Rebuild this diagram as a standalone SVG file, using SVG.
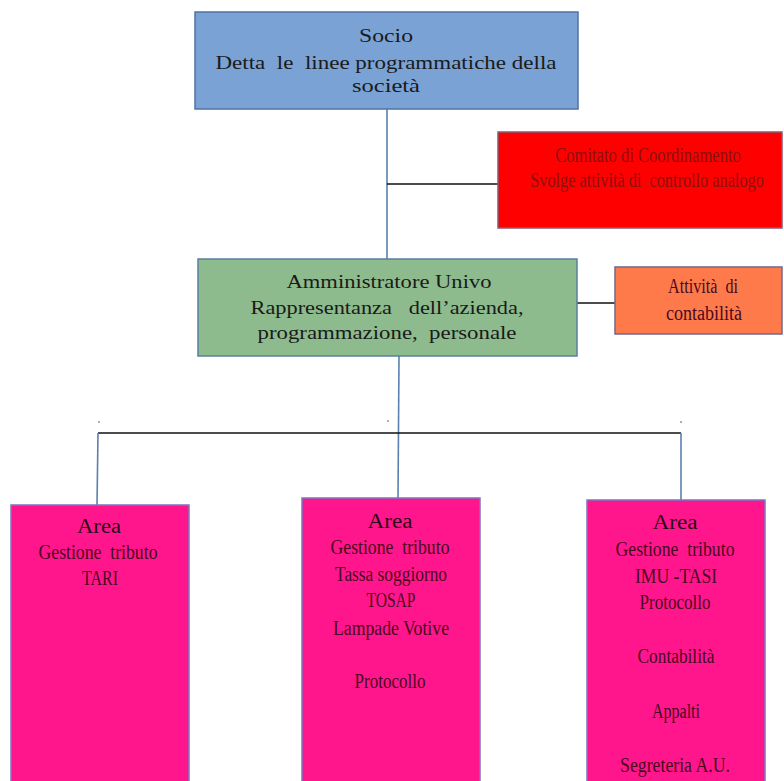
<svg xmlns="http://www.w3.org/2000/svg" width="784" height="781" viewBox="0 0 784 781">
<style>
.t{font-family:"Liberation Serif","Times New Roman",serif;text-anchor:middle}
.main{font-size:19px;fill:#1a1a1a}
.nar{font-size:20px;fill:#4a0a1e}
.area{font-size:20px;fill:#2a0a18}
.red{fill:#8b1010}
.bl{stroke:#5a80b0;stroke-width:1.6;fill:none}
.bk{stroke:#111;stroke-width:1.6;fill:none}
.pink{fill:#ff168c;stroke:#7f74c0;stroke-width:1.5}
</style>
<rect width="784" height="781" fill="#ffffff"/>
<g id="connectors">
<line class="bl" x1="387" y1="109" x2="387" y2="259"/>
<line class="bk" x1="387" y1="184" x2="498" y2="184"/>
<line class="bk" x1="577" y1="303" x2="615" y2="303" stroke="#333"/>
<line class="bl" x1="399" y1="356" x2="398" y2="499"/>
<line class="bk" x1="98" y1="433" x2="681" y2="433" stroke-width="2"/>
<line class="bl" x1="98" y1="433" x2="97" y2="505"/>
<line class="bl" x1="681" y1="433" x2="681" y2="500"/>
<circle cx="99" cy="422" r="0.9" fill="#888"/>
<circle cx="388" cy="421" r="0.9" fill="#888"/>
<circle cx="681" cy="422" r="0.9" fill="#888"/>
</g>
<g id="socio">
<rect x="195" y="12" width="383" height="97" fill="#7aa2d4" stroke="#4f73a3" stroke-width="1.5"/>
<text class="t main" x="386" y="42" textLength="54" lengthAdjust="spacingAndGlyphs">Socio</text>
<text class="t main" x="386" y="69" textLength="341" lengthAdjust="spacingAndGlyphs" xml:space="preserve">Detta  le  linee programmatiche della</text>
<text class="t main" x="386" y="92" textLength="68" lengthAdjust="spacingAndGlyphs">società</text>
</g>
<g id="comitato">
<rect x="498" y="132" width="284" height="96" fill="#ff0000" stroke="#8a5a70" stroke-width="1.5"/>
<text class="t nar red" transform="translate(648,162) scale(0.8,1)" x="0" y="0" textLength="232" lengthAdjust="spacingAndGlyphs">Comitato di Coordinamento</text>
<text class="t nar red" transform="translate(647,187) scale(0.8,1)" x="0" y="0" textLength="292" lengthAdjust="spacingAndGlyphs" xml:space="preserve">Svolge attività di  controllo analogo</text>
</g>
<g id="amministratore">
<rect x="198" y="259" width="379" height="97" fill="#8dbb8d" stroke="#5a7f9e" stroke-width="1.5"/>
<text class="t main" x="389" y="288" textLength="205" lengthAdjust="spacingAndGlyphs">Amministratore Univo</text>
<text class="t main" x="387" y="314" textLength="273" lengthAdjust="spacingAndGlyphs" xml:space="preserve">Rappresentanza   dell’azienda,</text>
<text class="t main" x="387" y="339" textLength="259" lengthAdjust="spacingAndGlyphs" xml:space="preserve">programmazione,  personale</text>
</g>
<g id="contabilita">
<rect x="615" y="267" width="167" height="67" fill="#ff7a4a" stroke="#6f6a8a" stroke-width="1.5"/>
<text class="t nar" x="703" y="293" textLength="70" lengthAdjust="spacingAndGlyphs" xml:space="preserve">Attività  di</text>
<text class="t nar" x="704" y="320" textLength="76" lengthAdjust="spacingAndGlyphs">contabilità</text>
</g>
<g id="area1">
<rect class="pink" x="11" y="505" width="178" height="290"/>
<text class="t area" x="99" y="533" textLength="44" lengthAdjust="spacingAndGlyphs">Area</text>
<text class="t nar" x="98" y="559" textLength="119" lengthAdjust="spacingAndGlyphs" xml:space="preserve">Gestione  tributo</text>
<text class="t nar" x="100" y="585" textLength="36" lengthAdjust="spacingAndGlyphs">TARI</text>
</g>
<g id="area2">
<rect class="pink" x="302" y="498" width="178" height="297"/>
<text class="t area" x="390" y="528" textLength="45" lengthAdjust="spacingAndGlyphs">Area</text>
<text class="t nar" x="390" y="554" textLength="119" lengthAdjust="spacingAndGlyphs" xml:space="preserve">Gestione  tributo</text>
<text class="t nar" x="391" y="581" textLength="112" lengthAdjust="spacingAndGlyphs">Tassa soggiorno</text>
<text class="t nar" x="391" y="607" textLength="49" lengthAdjust="spacingAndGlyphs">TOSAP</text>
<text class="t nar" x="391" y="635" textLength="116" lengthAdjust="spacingAndGlyphs">Lampade Votive</text>
<text class="t nar" x="390" y="688" textLength="71" lengthAdjust="spacingAndGlyphs">Protocollo</text>
</g>
<g id="area3">
<rect class="pink" x="587" y="500" width="178" height="295"/>
<text class="t area" x="675" y="529" textLength="45" lengthAdjust="spacingAndGlyphs">Area</text>
<text class="t nar" x="675" y="556" textLength="119" lengthAdjust="spacingAndGlyphs" xml:space="preserve">Gestione  tributo</text>
<text class="t nar" x="676" y="583" textLength="82" lengthAdjust="spacingAndGlyphs">IMU -TASI</text>
<text class="t nar" x="675" y="609" textLength="71" lengthAdjust="spacingAndGlyphs">Protocollo</text>
<text class="t nar" x="676" y="663" textLength="77" lengthAdjust="spacingAndGlyphs">Contabilità</text>
<text class="t nar" x="676" y="718" textLength="48" lengthAdjust="spacingAndGlyphs">Appalti</text>
<text class="t nar" x="675" y="772" textLength="110" lengthAdjust="spacingAndGlyphs">Segreteria A.U.</text>
</g>
</svg>
